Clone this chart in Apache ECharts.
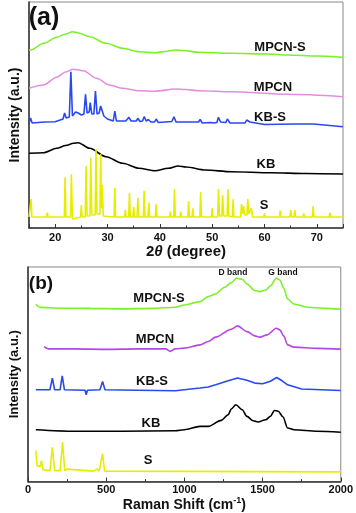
<!DOCTYPE html>
<html>
<head>
<meta charset="utf-8">
<script src="https://cdn.jsdelivr.net/npm/echarts@6/dist/echarts.min.js"></script>
<style>
  html, body { margin: 0; padding: 0; background: #fff; }
  #chart { width: 356px; height: 513px; }
</style>
</head>
<body>
<div id="chart"></div>
<script>
// sample names, top to bottom
const samples = ['MPCN-S', 'MPCN', 'KB-S', 'KB', 'S']

// (a) XRD, [2theta, intensity a.u.]
const xrdMpcnS = [[15, 178], [15.3, 178], [17.8, 184.7], [20.3, 190.7], [22, 194], [23.3, 196.3], [24.5, 195],
  [26.6, 191.3], [29.7, 184.7], [32.9, 179.7], [36, 176.3], [39.1, 175.3], [41, 176.5], [42.9, 178], [44.5, 177.5],
  [47.4, 175.7], [53.7, 174.7], [60.6, 174], [64.4, 173], [70, 172], [75, 170.7]]
const xrdMpcn = [[15, 139.7], [17.8, 143], [20.3, 150.7], [22, 156], [23.5, 158.7], [25.4, 157.3], [27.9, 149.7],
  [30.4, 143], [32.9, 139.7], [36, 137.3], [39.1, 136.7], [42.9, 139], [45, 138.5], [47.4, 137.3], [53.7, 136.3],
  [64.4, 133.7], [75, 131.3]]
const xrdKbS = [[15, 104.7], [15.3, 110], [15.6, 105], [18, 106], [20, 106.3], [21.5, 109], [21.8, 115], [22.1, 110],
  [22.7, 111], [23, 156.3], [23.3, 112], [23.9, 116], [24.4, 115], [25, 113], [25.5, 114], [25.8, 133.7], [26.1, 115],
  [26.5, 116], [26.7, 125.3], [27, 114], [27.4, 114], [27.7, 137], [28, 114], [28.4, 115], [28.7, 122], [29, 120.7],
  [29.3, 112], [30, 109], [31.1, 107], [31.4, 117], [31.7, 107], [33.5, 107], [34.1, 110.7], [34.5, 107], [35.5, 107],
  [35.8, 109.7], [36.2, 106.5], [36.7, 107], [37, 111.3], [37.4, 107], [37.8, 108.5], [38.3, 106], [39, 106],
  [39.3, 109], [39.7, 105.5], [42.3, 106.5], [42.7, 111.3], [43.1, 106], [45.5, 106], [47.4, 106], [47.7, 108.5],
  [48.1, 105], [49.7, 105.5], [50, 107], [50.4, 105], [50.9, 105.5], [51.2, 110.7], [51.6, 106], [52.6, 105.5],
  [52.9, 109], [53.4, 105], [56.3, 105], [56.6, 108], [57.2, 106], [60, 103.5], [65.8, 104], [69.4, 104], [75, 101.3]]
const xrdKb = [[15, 74.7], [17.8, 75.3], [20.3, 79.7], [22, 82.5], [23.5, 84.7], [24.4, 85.3], [26.6, 79.7],
  [29.7, 71.3], [32.9, 64.7], [36, 59.7], [39.1, 57.3], [41.6, 59.7], [43.5, 62], [45, 61], [48.7, 58], [53.7, 56.3],
  [61.2, 55.3], [68, 54.5], [75, 54]]
const xrdS = [[15, 11], [15.25, 11], [15.4, 29], [15.55, 11], [18.35, 11], [18.5, 15.3], [18.65, 11],
  [21.75, 11], [21.9, 50.7], [22.05, 11], [22.95, 11], [23.1, 53.7], [23.3, 9], [23.5, 11], [24.85, 11], [25, 23],
  [25.15, 11], [25.75, 11], [25.9, 62], [26.1, 12], [26.65, 12], [26.8, 70.3], [27, 13], [27.65, 13], [27.8, 78.7],
  [28, 14], [28.55, 14], [28.7, 74], [28.85, 20], [29, 43], [29.2, 12], [31.25, 11], [31.4, 40.3], [31.55, 11],
  [33.25, 11], [33.4, 18], [33.55, 11], [34.05, 11], [34.2, 35.3], [34.35, 11], [34.85, 11], [35, 21.3], [35.15, 11],
  [35.65, 11], [35.8, 30.3], [35.95, 11], [36.85, 11], [37, 37.3], [37.15, 11], [37.75, 11], [37.9, 25.3], [38.05, 11],
  [39.15, 11], [39.3, 23.7], [39.45, 11], [41.85, 11], [42, 16.3], [42.15, 11], [42.65, 11], [42.8, 38.7], [42.95, 11],
  [43.85, 11], [44, 16.3], [44.15, 11], [45.35, 11], [45.5, 27], [45.65, 11], [46.15, 11], [46.3, 19.7], [46.45, 11],
  [47.65, 11], [47.8, 36], [47.95, 11], [49.85, 11], [50, 19.7], [50.15, 11], [51.05, 11], [51.2, 39], [51.4, 12],
  [51.85, 12], [52, 33], [52.2, 12], [52.85, 12], [53, 38.7], [53.2, 12], [53.85, 11], [54, 28.7], [54.15, 11],
  [55.45, 11], [55.6, 24], [55.8, 14], [56, 22], [56.2, 13], [56.65, 13], [56.8, 29], [57, 14], [57.5, 20], [57.7, 11],
  [58.85, 11], [59, 13], [59.15, 11], [59.85, 11], [60, 14.7], [60.15, 11], [62.85, 11], [63, 17.3], [63.15, 11],
  [64.85, 11], [65, 18], [65.2, 11], [65.65, 11], [65.8, 18], [65.95, 11], [67.35, 11], [67.5, 14.7], [67.65, 11],
  [69.15, 11], [69.3, 22], [69.45, 11], [72.35, 11], [72.5, 15.3], [72.65, 11], [75, 11]]

// (b) Raman, [shift cm-1, intensity a.u.]
const ramanMpcnS = [[50, 177.7], [80, 174.5], [200, 173.7], [400, 173.5], [600, 173], [800, 173.5], [943, 174.7],
  [1000, 177], [1100, 180.3], [1152, 185.3], [1200, 188], [1255, 194.5], [1300, 199.3], [1333, 203.7], [1370, 202.7],
  [1400, 198], [1450, 191.5], [1481, 190.3], [1520, 192], [1550, 196], [1587, 203.7], [1610, 202], [1635, 194],
  [1660, 183], [1700, 178], [1786, 174.7], [1900, 173.5], [2000, 172.7]]
const ramanMpcn = [[103, 135.3], [130, 133], [300, 133], [500, 132.5], [700, 133], [880, 133], [910, 130.5], [940, 133],
  [1000, 133.7], [1100, 137], [1152, 140.3], [1200, 144.7], [1300, 152.7], [1340, 156], [1400, 150.3], [1450, 146],
  [1481, 144.7], [1530, 147], [1587, 153.7], [1610, 152], [1635, 146], [1660, 137], [1700, 134.7], [1850, 133.5],
  [2000, 132.7]]
const ramanKbS = [[50, 92], [140, 92], [156, 103.7], [170, 92], [205, 92], [219, 106], [233, 92], [365, 91.5],
  [372, 87], [380, 91.5], [460, 92], [477, 100.3], [492, 92], [700, 91.5], [943, 91], [1100, 93.7], [1153, 94.7],
  [1200, 97], [1280, 101], [1340, 103.7], [1400, 101.5], [1450, 98.7], [1500, 98], [1550, 100.5], [1590, 104.3],
  [1625, 101], [1660, 97], [1750, 92.7], [2000, 91.3]]
const ramanKb = [[50, 52], [300, 50.5], [600, 50.5], [943, 51], [1000, 52], [1100, 55.3], [1153, 55.3], [1236, 61.3],
  [1280, 67], [1300, 72.7], [1329, 77], [1370, 72], [1400, 65.3], [1440, 61], [1470, 59.7], [1520, 62], [1550, 65.3],
  [1576, 71.3], [1600, 70.5], [1630, 65], [1660, 53.7], [1700, 52], [1850, 50.5], [2000, 49.5]]
const ramanS = [[50, 31.3], [58, 16], [66, 14], [77, 15], [86, 21], [95, 12], [140, 11], [156, 34.3], [170, 11],
  [205, 11], [221, 39.7], [235, 11], [248, 12.5], [260, 10.5], [420, 10.5], [441, 12.7], [455, 10.5], [464, 11],
  [477, 28], [490, 10.5], [1000, 10.2], [2000, 9.7]]

const COLORS = ['#7cf02a', '#e48ce4', '#2a48f0', '#000000', '#e6ee00']
const RAMAN_COLORS = ['#7cf02a', '#b347e6', '#2a48f0', '#000000', '#e6ee00']
const FONT = 'Liberation Sans, Arial, sans-serif'

const chart = echarts.init(document.getElementById('chart'))

function line(name, data, color, xi, smooth) {
  return {
    name, type: 'line', xAxisIndex: xi, yAxisIndex: xi, data,
    showSymbol: false, smooth: smooth ? 0.3 : false, smoothMonotone: 'x',
    lineStyle: { color, width: 1.6 }, animation: false,
  }
}

function label(text, x, y, size) {
  return {
    type: 'text', x, y,
    style: { text, fill: '#111', font: `bold ${size}px ${FONT}`, textAlign: 'center', textVerticalAlign: 'middle' },
  }
}

const xAxisBase = {
  type: 'value',
  axisLine: { show: true, onZero: false, lineStyle: { color: '#333', width: 1.5 } },
  axisTick: { inside: true, length: 4, lineStyle: { color: '#333' } },
  minorTick: { show: true, splitNumber: 2, length: 2.5, lineStyle: { color: '#333' } },
  splitLine: { show: false },
  nameLocation: 'middle',
}
const yAxisBase = {
  type: 'value', min: 0,
  axisLine: { show: true, lineStyle: { color: '#333', width: 1.5 } },
  axisTick: { show: false }, axisLabel: { show: false }, splitLine: { show: false },
  name: 'Intensity (a.u.)', nameLocation: 'middle', nameRotate: 90,
}

chart.setOption({
  animation: false,
  grid: [
    { left: 26, top: 2, width: 317, height: 226, show: true, borderColor: '#888', borderWidth: 1 },
    { left: 27, top: 267, width: 316, height: 215, show: true, borderColor: '#888', borderWidth: 1 },
  ],
  xAxis: [
    { ...xAxisBase, gridIndex: 0, min: 15, max: 75,
      axisLabel: { showMinLabel: false, showMaxLabel: false, margin: 4, color: '#111', fontWeight: 'bold', fontSize: 11, fontFamily: FONT, formatter: v => String(v) },
      name: '2{i|θ} (degree)', nameGap: 12,
      nameTextStyle: { color: '#111', fontWeight: 'bold', fontSize: 15, fontFamily: FONT,
        rich: { i: { fontStyle: 'italic', fontWeight: 'bold', fontSize: 15, fontFamily: FONT, color: '#111' } } } },
    { ...xAxisBase, gridIndex: 1, min: 0, max: 2000, interval: 500,
      axisLabel: { margin: 3, color: '#111', fontWeight: 'bold', fontSize: 11, fontFamily: FONT, formatter: v => String(v) },
      name: 'Raman Shift (cm{s|-1})', nameGap: 14,
      nameTextStyle: { color: '#111', fontWeight: 'bold', fontSize: 14, fontFamily: FONT,
        rich: { s: { fontSize: 9, fontWeight: 'bold', verticalAlign: 'top', padding: [0, 0, 8, 0], fontFamily: FONT, color: '#111' } } } },
  ],
  yAxis: [
    { ...yAxisBase, gridIndex: 0, max: 226, nameGap: 7,
      nameTextStyle: { color: '#111', fontWeight: 'bold', fontSize: 14, fontFamily: FONT } },
    { ...yAxisBase, gridIndex: 1, max: 215, nameGap: 7,
      nameTextStyle: { color: '#111', fontWeight: 'bold', fontSize: 13, fontFamily: FONT } },
  ],
  series: [
    line(samples[0], xrdMpcnS, COLORS[0], 0, true),
    line(samples[1], xrdMpcn, COLORS[1], 0, true),
    line(samples[2], xrdKbS, COLORS[2], 0, false),
    line(samples[3], xrdKb, COLORS[3], 0, true),
    line(samples[4], xrdS, COLORS[4], 0, false),
    line(samples[0], ramanMpcnS, RAMAN_COLORS[0], 1, true),
    line(samples[1], ramanMpcn, RAMAN_COLORS[1], 1, true),
    line(samples[2], ramanKbS, RAMAN_COLORS[2], 1, false),
    line(samples[3], ramanKb, RAMAN_COLORS[3], 1, true),
    line(samples[4], ramanS, RAMAN_COLORS[4], 1, false),
  ],
  graphic: [
    label('(a)', 44, 18, 25),
    label(samples[0], 280, 47, 13),
    label(samples[1], 273, 87, 13),
    label(samples[2], 270, 117, 13),
    label(samples[3], 266, 164, 13),
    label(samples[4], 264, 205, 13),
    label('(b)', 41, 284, 19),
    label('D band', 233, 273, 8.5),
    label('G band', 283, 273, 8.5),
    label(samples[0], 159, 298, 13),
    label(samples[1], 155, 339, 13),
    label(samples[2], 152, 381, 13),
    label(samples[3], 151, 423, 13),
    label(samples[4], 148, 460, 13),
  ],
})
</script>
</body>
</html>
